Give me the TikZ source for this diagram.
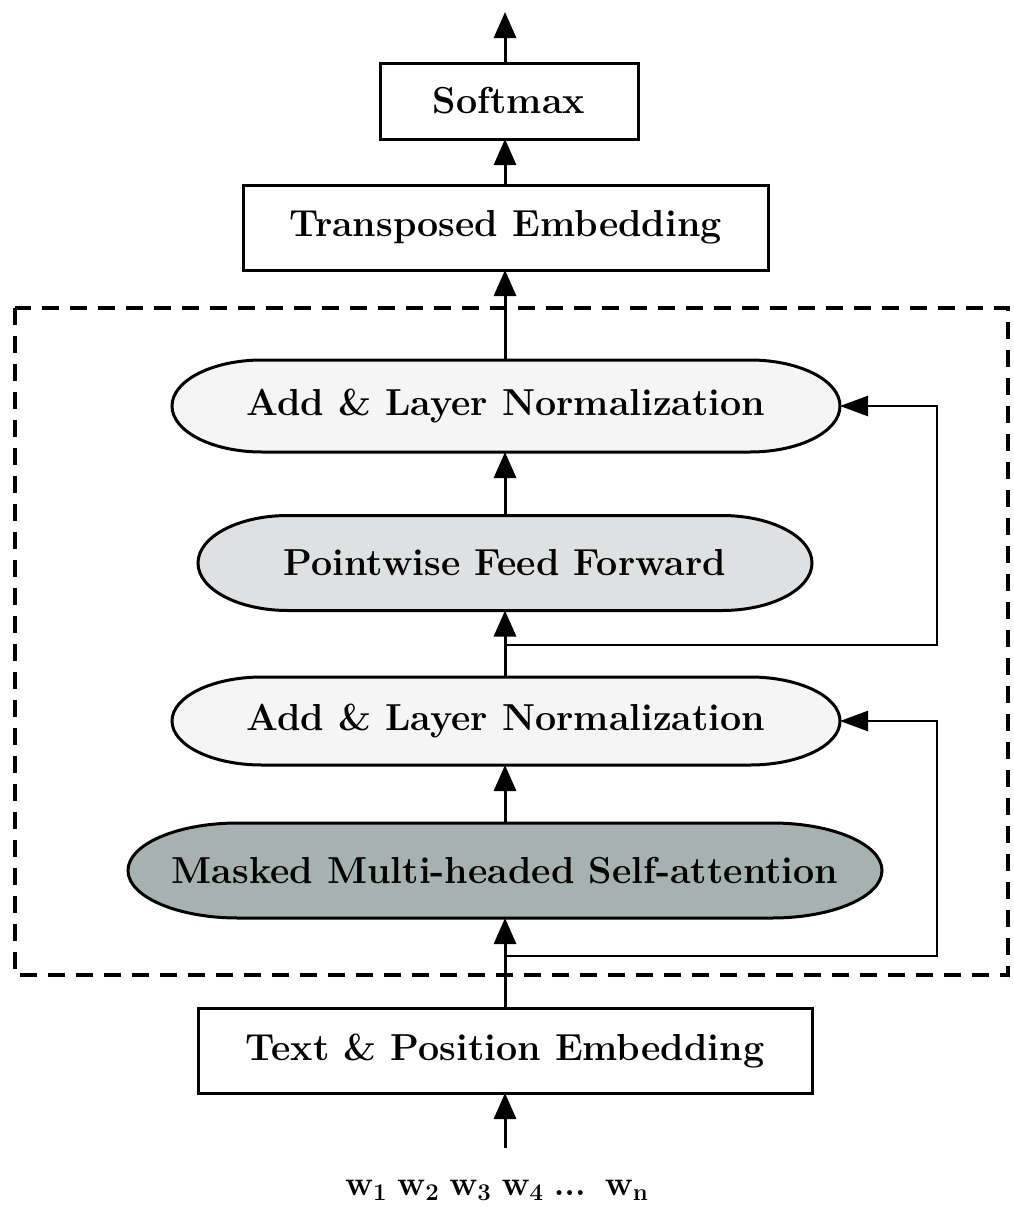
\documentclass[tikz,border=0pt]{standalone}
\usetikzlibrary{arrows.meta,calc,backgrounds}
\definecolor{normfill}{RGB}{245,245,245}
\definecolor{fffill}{RGB}{222,224,225}
\definecolor{attfill}{RGB}{165,178,176}
\tikzset{
  lbl/.style={font=\fontsize{18.8}{22}\selectfont\bfseries, inner sep=0pt, outer sep=0pt},
  boxnode/.style={lbl, draw, line width=1.5pt, fill=white},
  capnode/.style={lbl},
  arr/.style={line width=1.5pt, -{Triangle[length=13pt,width=11pt]}},
  skiparr/.style={line width=1.3pt, -{Triangle[length=14pt,width=10pt]}},
  frame/.style={line width=1.6pt, dash pattern=on 8.5pt off 5.5pt},
}
\newcommand\drawcapsule[3]{%
  \path[draw=black, line width=1.5pt, fill=#3]
    let \p1=(#1.north), \p2=(#1.south), \n1={(\y1-\y2)/2} in
    ([xshift=#2]#1.north west) -- ([xshift=-#2]#1.north east)
    arc[start angle=90, end angle=-90, x radius=#2, y radius=\n1]
    -- ([xshift=#2]#1.south west)
    arc[start angle=270, end angle=90, x radius=#2, y radius=\n1] -- cycle;}
\begin{document}
\begin{tikzpicture}[x=0.5pt,y=-0.5pt]
\useasboundingbox (0,0) rectangle (1013,1215);

% dashed frame
\draw[frame] (15,308) rectangle (1008,975);

% nodes
\node[boxnode, minimum width=129pt, minimum height=38pt] (softmax) at (509,101) {Softmax};
\node[boxnode, minimum width=262.5pt, minimum height=42.5pt] (trans) at (505.5,227.5) {Transposed Embedding};
\node[capnode, minimum width=334pt, minimum height=46pt] (norm2) at (506,406) {Add \& Layer Normalization};
\node[capnode, minimum width=307pt, minimum height=47.5pt] (ff) at (505,563) {Pointwise Feed Forward};
\node[capnode, minimum width=334pt, minimum height=44pt] (norm1) at (506,721) {Add \& Layer Normalization};
\node[capnode, minimum width=377pt, minimum height=47.5pt] (mhsa) at (505,870.5) {Masked Multi-headed Self-attention};
\node[boxnode, minimum width=307pt, minimum height=42.5pt] (textpos) at (505,1050.5) {Text \& Position Embedding};
\node[inner sep=0pt] (words) at (497,1190) {\fontsize{17}{20}\selectfont$\mathbf{w_1\;w_2\;w_3\;w_4}\;\textbf{...}\;\;\mathbf{w_n}$};

\begin{scope}[on background layer]
\drawcapsule{norm2}{45pt}{normfill}
\drawcapsule{ff}{45pt}{fffill}
\drawcapsule{norm1}{45pt}{normfill}
\drawcapsule{mhsa}{55pt}{attfill}
\end{scope}

% coordinates
\coordinate (out) at (505,12);
\coordinate (in) at (505,1148);
\coordinate (b1) at (505,645);
\coordinate (r1) at (937,645);
\coordinate (b2) at (505,956);
\coordinate (r2) at (937,956);

% connectors
\draw[arr] (softmax.north -| out) -- (out);
\draw[arr] (trans.north -| out) -- (softmax.south -| out);
\draw[arr] (norm2.north -| out) -- (trans.south -| out);
\draw[arr] (ff.north -| out) -- (norm2.south -| out);
\draw[arr] (norm1.north -| out) -- (ff.south -| out);
\draw[arr] (mhsa.north -| out) -- (norm1.south -| out);
\draw[arr] (textpos.north -| out) -- (mhsa.south -| out);
\draw[arr] (in) -- (textpos.south -| out);
\draw[skiparr] (b1) -- (r1) |- (norm2.east);
\draw[skiparr] (b2) -- (r2) |- (norm1.east);
\end{tikzpicture}
\end{document}
